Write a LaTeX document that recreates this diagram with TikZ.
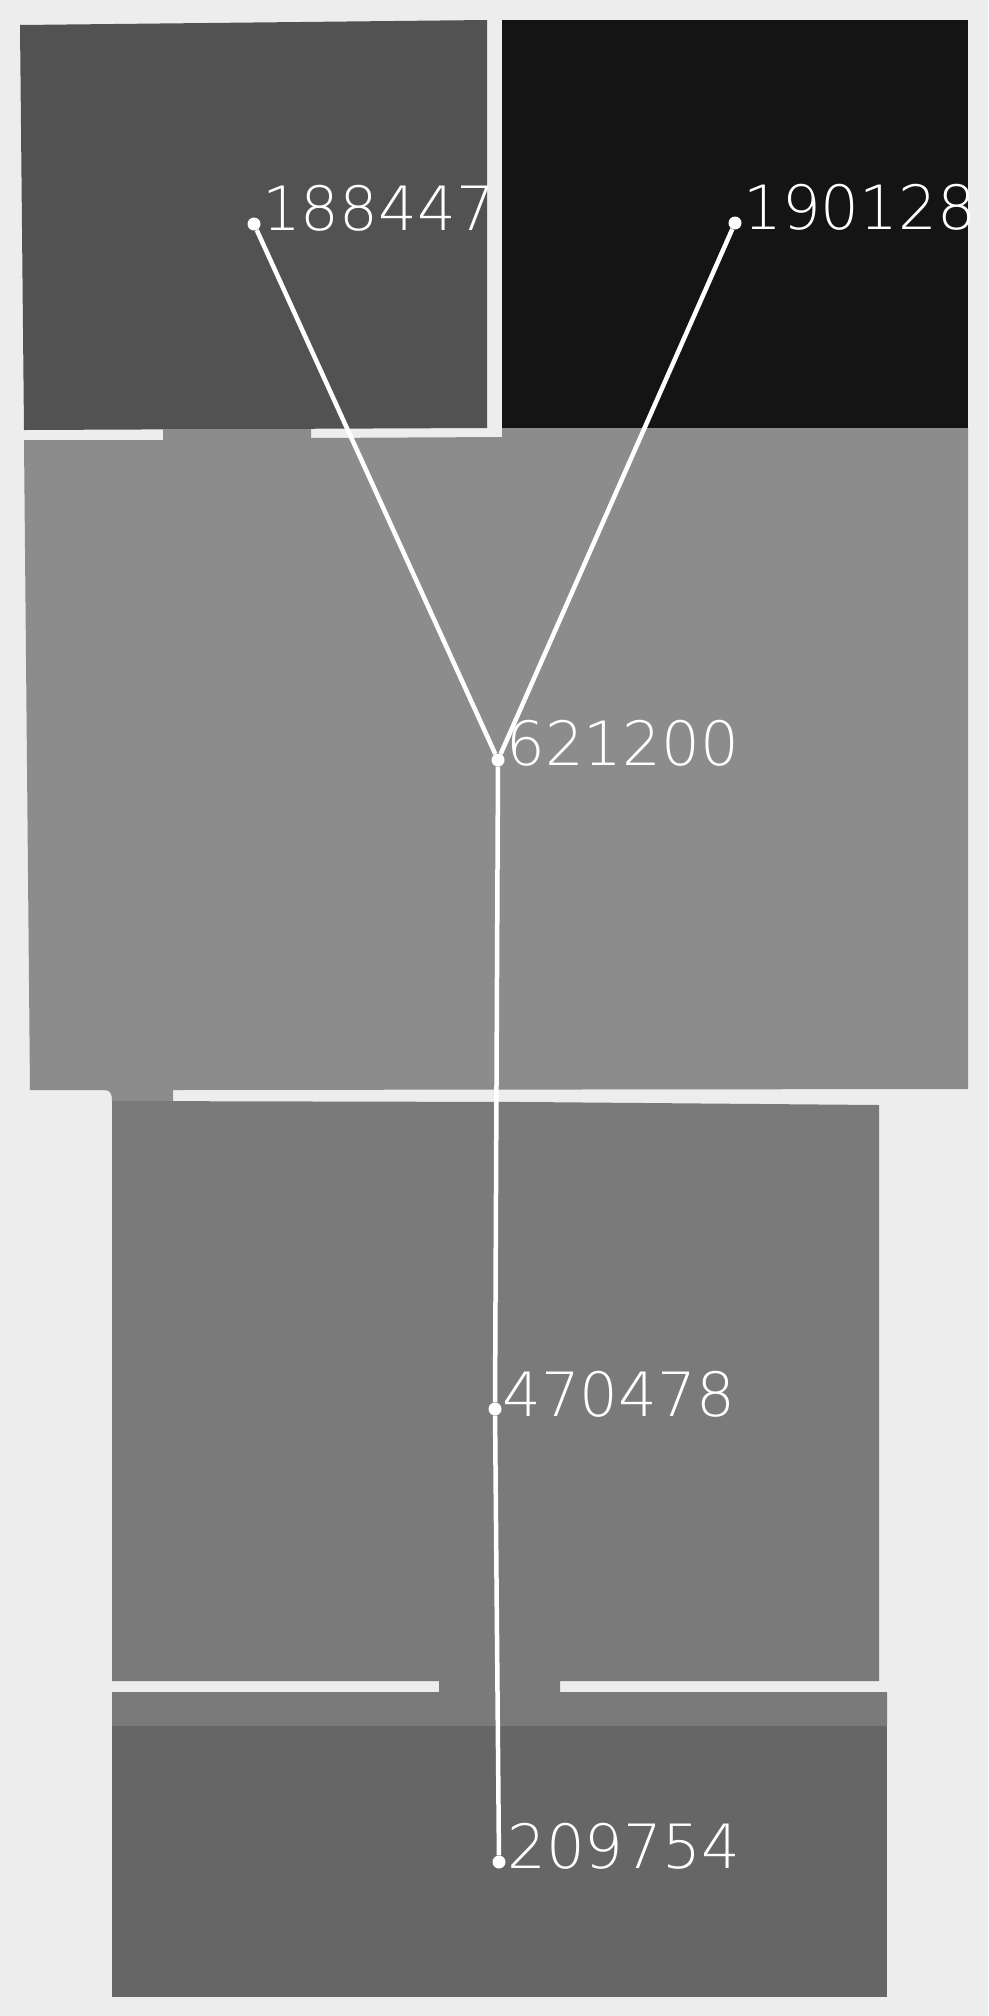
\documentclass[tikz,border=0pt]{standalone}
\usepackage{fontspec}
\IfFontExistsTF{DejaVu Sans ExtraLight}{\newfontfamily\valfont{DejaVu Sans ExtraLight}}{\newfontfamily\valfont{DejaVu Sans}}
\definecolor{PageGray}{HTML}{EDEDED}
\definecolor{CellA}{HTML}{525252}
\definecolor{CellB}{HTML}{141414}
\definecolor{CellC}{HTML}{8C8C8C}
\definecolor{CellD}{HTML}{7A7A7A}
\definecolor{CellE}{HTML}{666666}
\usetikzlibrary{calc}

\begin{document}
\begin{tikzpicture}[
        x=1pt, y=-1pt,
        dot/.style={circle, fill=white, inner sep=0pt, minimum size=13pt},
        val/.style={text=white, anchor=base west, inner sep=0pt, font=\valfont\fontsize{61}{72}\selectfont},
        link/.style={white, line width=4.5pt}
    ]
    % page and cells
    \fill[PageGray] (0,0) rectangle (988,2016);
    \fill[CellA] (20,25) -- (487,20) -- (487,428) -- (24,430) -- cycle;
    \fill[CellB] (502,20) rectangle (968,428);
    \fill[CellC] (24,440) -- (163,440) -- (163,429) -- (311,429) -- (311,438) -- (502,437) -- (502,428)
        -- (968,428) -- (968,1089) -- (173,1090) -- (173,1101) -- (112,1101)
        .. controls (112,1093) and (110,1090) .. (104,1090) -- (30,1090) -- cycle;
    \fill[CellD] (112,1101) -- (526,1102) -- (879,1105) -- (879,1681) -- (560,1681) -- (560,1692)
        -- (887,1692) -- (887,1726) -- (112,1726) -- (112,1692) -- (439,1692) -- (439,1681)
        -- (112,1681) -- cycle;
    \fill[CellE] (112,1726) rectangle (887,1997);
    % points
    \node[dot] (ptA) at (254,224) {};
    \node[dot] (ptB) at (735,223) {};
    \node[dot] (ptC) at (498,760) {};
    \node[dot] (ptD) at (495,1409) {};
    \node[dot] (ptE) at (499,1862) {};
    \draw[link] (ptA) -- (ptC);
    \draw[link] (ptB) -- (ptC);
    \draw[link] (ptC) -- (ptD);
    \draw[link] (ptD) -- (ptE);
    % values
    \node[val] (lblA) at ([xshift=8pt,yshift=-6pt]ptA.center) {188447};
    \node[val] (lblB) at ([xshift=8pt,yshift=-6pt]ptB.center) {190128};
    \node[val] (lblC) at ([xshift=8pt,yshift=-5pt]ptC.center) {621200};
    \node[val] (lblD) at ([xshift=7pt,yshift=-7pt]ptD.center) {470478};
    \node[val] (lblE) at ([xshift=8pt,yshift=-6pt]ptE.center) {209754};
\end{tikzpicture}
\end{document}
